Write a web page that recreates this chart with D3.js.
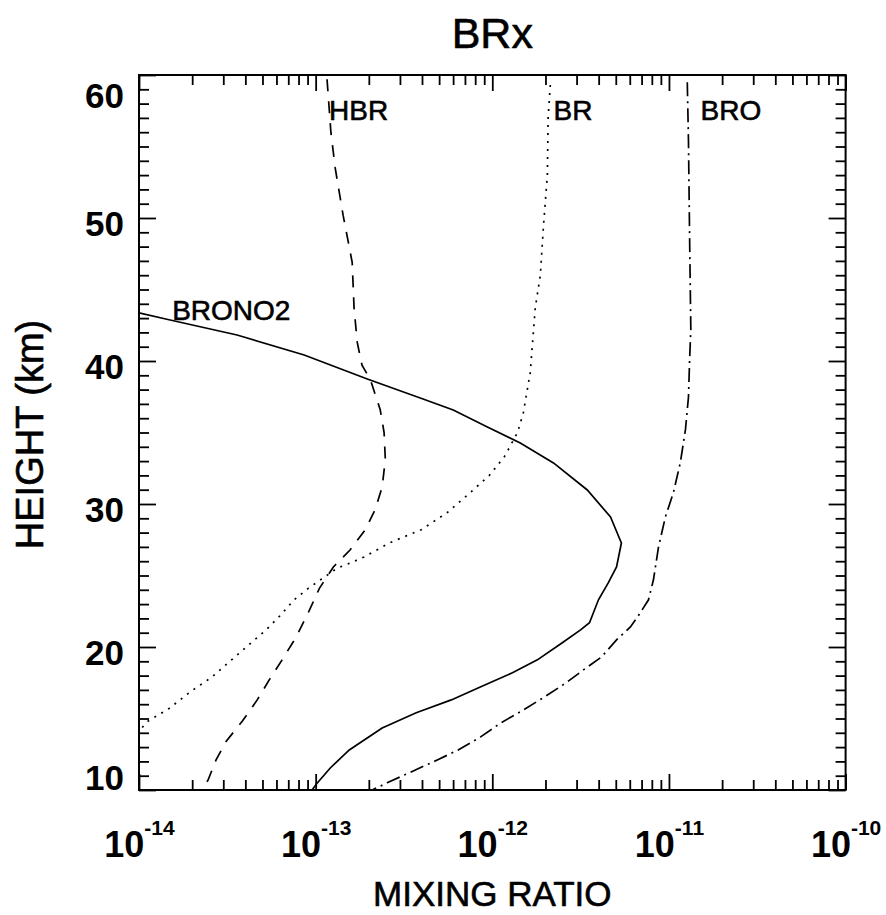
<!DOCTYPE html>
<html>
<head>
<meta charset="utf-8">
<script src="https://cdn.jsdelivr.net/npm/d3@7"></script>
<style>
  body { margin: 0; background: #fff; }
  svg { display: block; font-family: "Liberation Sans", Arial, sans-serif; }
</style>
</head>
<body>
<svg width="886" height="915"></svg>
<script>
// height (km) and mixing ratio per species
const hbrHeight = [59.7, 56.0, 53.5, 50.2, 46.9, 43.7, 41.3, 39.7, 38.7, 36.6, 35.0, 33.1, 31.2, 29.6, 28.2, 26.8, 25.6, 24.1, 22.4, 20.7, 19.1, 17.7, 16.3, 14.8, 13.4, 12.1, 10.7, 10.0];
const hbrRatio = [1.16e-13, 1.22e-13, 1.29e-13, 1.43e-13, 1.61e-13, 1.65e-13, 1.72e-13, 1.83e-13, 2.04e-13, 2.32e-13, 2.44e-13, 2.48e-13, 2.38e-13, 2.17e-13, 1.91e-13, 1.57e-13, 1.26e-13, 1.05e-13, 9.08e-14, 7.76e-14, 6.46e-14, 5.46e-14, 4.67e-14, 3.84e-14, 3.11e-14, 2.73e-14, 2.46e-14, 2.24e-14];

const brHeight = [59.3, 57.0, 53.0, 49.5, 46.0, 43.7, 41.3, 39.2, 36.4, 35.0, 33.3, 32.0, 30.8, 29.4, 28.2, 27.3, 26.3, 25.9, 25.5, 24.1, 23.3, 22.2, 21.2, 20.3, 19.2, 17.9, 16.9, 15.7, 14.8, 14.3];
const brRatio = [2.13e-12, 2.07e-12, 2.05e-12, 1.95e-12, 1.87e-12, 1.75e-12, 1.69e-12, 1.64e-12, 1.50e-12, 1.39e-12, 1.17e-12, 9.62e-13, 7.50e-13, 5.56e-13, 3.96e-13, 2.64e-13, 1.88e-13, 1.59e-13, 1.32e-13, 9.08e-14, 7.55e-14, 6.30e-14, 5.25e-14, 4.32e-14, 3.41e-14, 2.59e-14, 1.97e-14, 1.48e-14, 1.12e-14, 1.03e-14];

const broHeight = [59.5, 55.3, 48.3, 42.2, 40.2, 37.5, 35.2, 32.9, 30.8, 29.1, 27.0, 24.7, 23.3, 22.1, 21.4, 20.5, 19.3, 18.4, 17.5, 16.5, 15.6, 14.7, 13.7, 12.8, 12.1, 11.3, 10.5, 10.0];
const broRatio = [1.27e-11, 1.29e-11, 1.31e-11, 1.33e-11, 1.31e-11, 1.29e-11, 1.24e-11, 1.16e-11, 1.06e-11, 9.55e-12, 8.73e-12, 8.17e-12, 7.66e-12, 6.64e-12, 6.05e-12, 5.05e-12, 4.15e-12, 3.28e-12, 2.62e-12, 1.97e-12, 1.50e-12, 1.12e-12, 8.55e-13, 6.41e-13, 4.88e-13, 3.52e-13, 2.54e-13, 2.09e-13];

const brono2Height = [43.36, 42.87, 41.82, 40.42, 38.74, 37.41, 36.57, 35.38, 34.27, 32.87, 30.98, 29.09, 27.27, 25.6, 24.5, 23.3, 21.7, 21.2, 20.3, 19.1, 18.2, 17.2, 16.3, 15.4, 14.34, 12.8, 11.54, 10.42, 10.0];
const brono2Ratio = [1.0e-14, 1.50e-14, 3.59e-14, 8.61e-14, 1.96e-13, 3.91e-13, 6.01e-13, 9.38e-13, 1.44e-12, 2.22e-12, 3.45e-12, 4.67e-12, 5.38e-12, 5.05e-12, 4.54e-12, 3.99e-12, 3.55e-12, 3.16e-12, 2.49e-12, 1.80e-12, 1.30e-12, 8.55e-13, 5.86e-13, 3.71e-13, 2.38e-13, 1.55e-13, 1.21e-13, 1.01e-13, 9.55e-14];

// curve labels: name, mixing ratio and height where the text starts
const labelNames = ["HBR", "BR", "BRO", "BRONO2"];
const labelRatio = [1.19e-13, 2.22e-12, 1.51e-11, 1.54e-14];
const labelHeight = [56.85, 56.85, 56.85, 42.87];

const xTickExponents = [-14, -13, -12, -11, -10];
const yTicks = [10, 20, 30, 40, 50, 60];

const margin = { top: 75, right: 40.4, bottom: 125, left: 139 };
const width = 886;
const height = 915;

const svg = d3.select("svg");

const xScale = d3.scaleLog()
  .domain([1e-14, 1e-10])
  .range([margin.left, width - margin.right]);

const yScale = d3.scaleLinear()
  .domain([10, 60])
  .range([height - margin.bottom, margin.top]);

const x0 = xScale.range()[0], x1 = xScale.range()[1];
const y0 = yScale.range()[1], y1 = yScale.range()[0];

// major / minor tick values
const xMajor = xTickExponents.map(e => Math.pow(10, e));
let xMinor = [];
xTickExponents.slice(0, -1).forEach(e => {
  for (let m = 2; m <= 9; m++) xMinor.push(m * Math.pow(10, e));
});
const yMinor = d3.range(10, 61).filter(v => v % 10 !== 0);

function styleTicks(g) {
  g.select(".domain").remove();
  g.selectAll(".tick line").attr("stroke", "#000").attr("stroke-width", 1.8);
}

// x axes (bottom and top), ticks pointing inward
svg.append("g")
  .attr("transform", `translate(0, ${y1})`)
  .call(d3.axisBottom(xScale).tickValues(xMinor).tickSize(-10).tickFormat(""))
  .call(styleTicks);
const xAxisBottom = svg.append("g")
  .attr("transform", `translate(0, ${y1})`)
  .call(d3.axisBottom(xScale).tickValues(xMajor).tickSize(-16).tickFormat(""))
  .call(styleTicks);
svg.append("g")
  .attr("transform", `translate(0, ${y0})`)
  .call(d3.axisTop(xScale).tickValues(xMinor).tickSize(-10).tickFormat(""))
  .call(styleTicks);
svg.append("g")
  .attr("transform", `translate(0, ${y0})`)
  .call(d3.axisTop(xScale).tickValues(xMajor).tickSize(-16).tickFormat(""))
  .call(styleTicks);

// decade labels 10^n
xAxisBottom.selectAll(".tick text").each(function(d, i) {
  const t = d3.select(this)
    .attr("y", 0)
    .attr("dy", 0)
    .attr("transform", "translate(0, 67)")
    .attr("fill", "#000")
    .attr("font-size", 36)
    .attr("font-weight", "bold")
    .attr("font-family", "'Liberation Sans', Arial, sans-serif")
    .attr("text-anchor", "middle");
  t.append("tspan").text("10");
  t.append("tspan")
    .attr("dy", -22)
    .attr("font-size", 21)
    .text(xTickExponents[i]);
});

// y axes (left and right)
svg.append("g")
  .attr("transform", `translate(${x0}, 0)`)
  .call(d3.axisLeft(yScale).tickValues(yMinor).tickSize(-10).tickFormat(""))
  .call(styleTicks);
svg.append("g")
  .attr("transform", `translate(${x0}, 0)`)
  .call(d3.axisLeft(yScale).tickValues(yTicks).tickSize(-17).tickPadding(15).tickFormat(d3.format("d")))
  .call(styleTicks)
  .call(g => g.selectAll(".tick text")
    .attr("fill", "#000")
    .attr("font-size", 35)
    .attr("font-weight", "bold")
    .attr("font-family", "'Liberation Sans', Arial, sans-serif")
    .attr("dy", d => d === 10 ? -1 : d === 60 ? 32 : 17));
svg.append("g")
  .attr("transform", `translate(${x1}, 0)`)
  .call(d3.axisRight(yScale).tickValues(yMinor).tickSize(-10).tickFormat(""))
  .call(styleTicks);
svg.append("g")
  .attr("transform", `translate(${x1}, 0)`)
  .call(d3.axisRight(yScale).tickValues(yTicks).tickSize(-17).tickFormat(""))
  .call(styleTicks);

// frame
svg.append("rect")
  .attr("x", x0)
  .attr("y", y0)
  .attr("width", x1 - x0)
  .attr("height", y1 - y0)
  .attr("fill", "none")
  .attr("stroke", "#000")
  .attr("stroke-width", 2);

// clip for curves
svg.append("clipPath")
  .attr("id", "plot-clip")
  .append("rect")
  .attr("x", x0)
  .attr("y", y0)
  .attr("width", x1 - x0)
  .attr("height", y1 - y0);

const valueline = d3.line()
  .x(d => xScale(d.ratio))
  .y(d => yScale(d.height));

function toSeries(heights, ratios) {
  return heights.map((h, i) => ({ height: h, ratio: ratios[i] }));
}

function addLine(heights, ratios, dash) {
  svg.append("path")
    .attr("clip-path", "url(#plot-clip)")
    .attr("d", valueline(toSeries(heights, ratios)))
    .attr("fill", "none")
    .attr("stroke", "#000")
    .attr("stroke-width", 1.7)
    .attr("stroke-dasharray", dash);
}

addLine(hbrHeight, hbrRatio, "12,10");
addLine(brHeight, brRatio, "2,6");
addLine(broHeight, broRatio, "14,5,2,5");
addLine(brono2Height, brono2Ratio, null);

// curve labels
labelNames.forEach((name, i) => {
  svg.append("text")
    .attr("x", xScale(labelRatio[i]))
    .attr("y", yScale(labelHeight[i]))
    .attr("font-size", 28)
    .attr("fill", "#000")
    .attr("stroke", "#000")
    .attr("stroke-width", 0.6)
    .text(name);
});

// title and axis titles
svg.append("text")
  .attr("x", (x0 + x1) / 2)
  .attr("y", 48)
  .attr("text-anchor", "middle")
  .attr("font-size", 43)
  .attr("stroke", "#000")
  .attr("stroke-width", 0.6)
  .text("BRx");

svg.append("text")
  .attr("x", (x0 + x1) / 2)
  .attr("y", 906)
  .attr("text-anchor", "middle")
  .attr("font-size", 35)
  .attr("stroke", "#000")
  .attr("stroke-width", 0.6)
  .text("MIXING RATIO");

svg.append("text")
  .attr("transform", `translate(43, ${(y0 + y1) / 2 + 2}) rotate(-90)`)
  .attr("text-anchor", "middle")
  .attr("font-size", 38)
  .attr("stroke", "#000")
  .attr("stroke-width", 0.6)
  .text("HEIGHT (km)");
</script>
</body>
</html>
